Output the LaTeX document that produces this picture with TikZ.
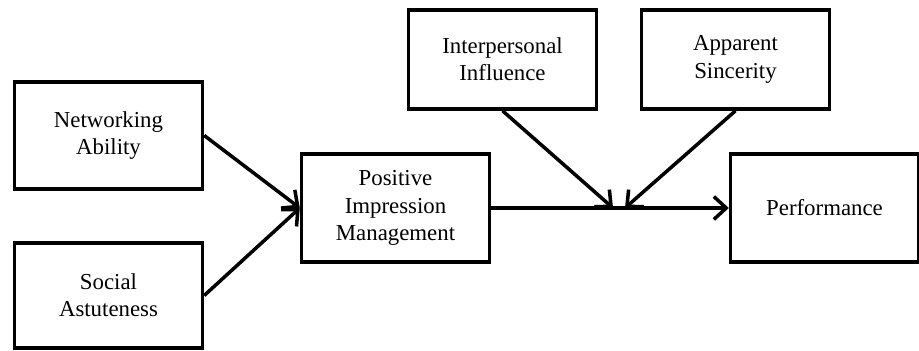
\documentclass[tikz,border=0pt]{standalone}
\usepackage{fontspec}
\setmainfont{Liberation Serif}
\usetikzlibrary{arrows.meta}
\begin{document}
\begin{tikzpicture}[x=0.02cm, y=-0.02cm,
        box/.style={rectangle, draw=black, fill=white, line width=2pt, align=center,
            minimum width=3.76cm, inner sep=2pt, font=\fontsize{13}{15.5}\selectfont},
        link/.style={black, line width=2pt, -{Straight Barb[length=7pt,width=13pt]}}]
            \useasboundingbox (0,0) rectangle (919,351);

            \node[box, minimum height=2.14cm] (N) at (108.5,135.5) {Networking\\Ability};
            \node[box, minimum height=2.10cm] (S) at (108.5,295.5) {Social\\Astuteness};

            \node[box, minimum height=2.16cm] (P) at (395.5,208) {Positive\\Impression\\Management};

            \node[box, minimum height=1.98cm] (I) at (502.5,59.5) {Interpersonal\\Influence};
            \node[box, minimum height=1.98cm] (A) at (735.5,59.5) {Apparent\\Sincerity};

            \node[box, minimum height=2.16cm] (R) at (824.5,208) {Performance};

            \coordinate (mI) at (613,208);
            \coordinate (mA) at (625,208);

            \draw[link] (N.east) -- (P.west);
            \draw[link] (S.east) -- (P.west);
            \draw[link] (P.east) -- (R.west);
            \draw[link] (I.south) -- (mI);
            \draw[link] (A.south) -- (mA);
        \end{tikzpicture}
\end{document}
